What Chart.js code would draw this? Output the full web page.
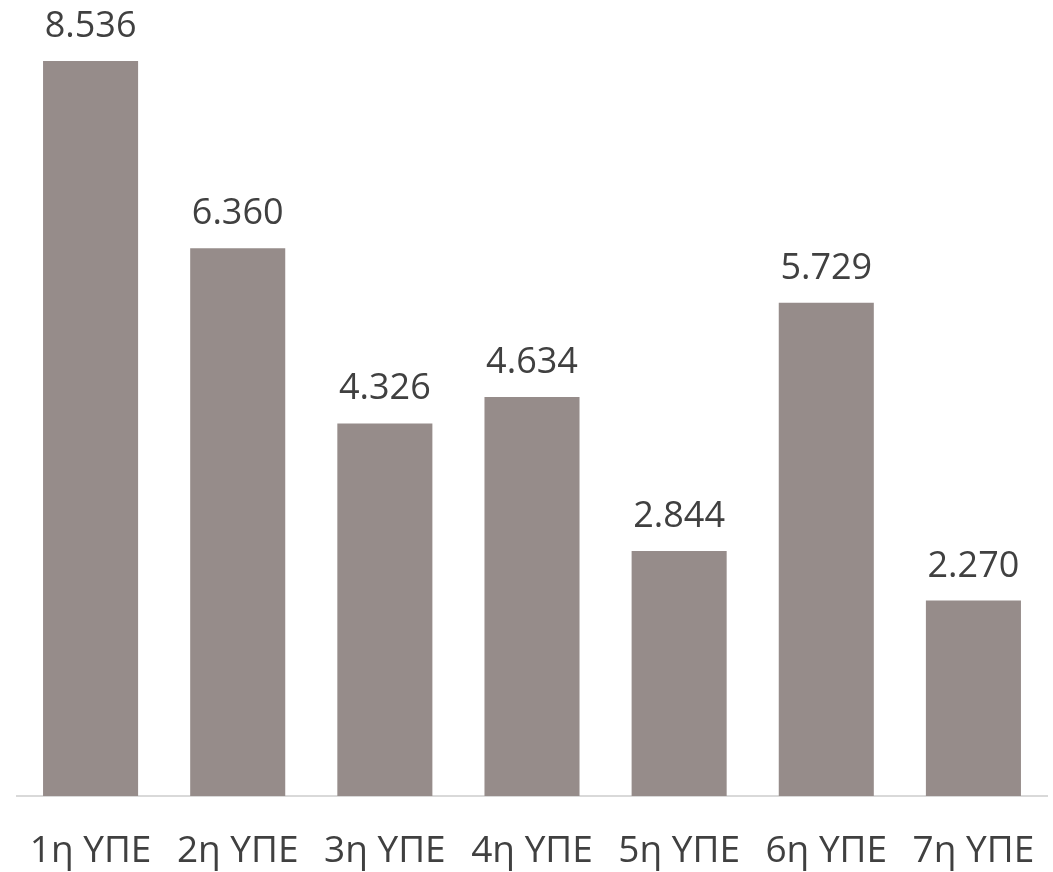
<!DOCTYPE html>
<html>
<head>
<meta charset="utf-8">
<script src="https://cdn.jsdelivr.net/npm/chart.js@4"></script>
<style>
  body { margin: 0; background: #fff; overflow: hidden; }
  #wrap { width: 1053px; height: 872px; }
  canvas { display: block; }
</style>
</head>
<body>
<div id="wrap"><canvas id="myChart" width="1053" height="872"></canvas></div>
<script>
const regions = ['1η ΥΠΕ', '2η ΥΠΕ', '3η ΥΠΕ', '4η ΥΠΕ', '5η ΥΠΕ', '6η ΥΠΕ', '7η ΥΠΕ'];
const counts = [8536, 6360, 4326, 4634, 2844, 5729, 2270];

// thousands with a dot, e.g. 8.536
function fmt(n) {
    return String(n).replace(/\B(?=(\d{3})+(?!\d))/g, '.');
}

const valueLabels = {
    id: 'valueLabels',
    afterDatasetsDraw(chart) {
        const c = chart.ctx;
        const meta = chart.getDatasetMeta(0);
        c.save();
        c.font = '36px "Open Sans"';
        c.fillStyle = '#404040';
        c.textAlign = 'center';
        c.textBaseline = 'alphabetic';
        meta.data.forEach((bar, i) => {
            c.fillText(fmt(counts[i]), bar.x, bar.y - 24);
        });
        c.restore();
    }
};

const ctx = document.getElementById('myChart').getContext('2d');

new Chart(ctx, {
    type: 'bar',
    data: {
        labels: regions,
        datasets: [{
            data: counts,
            backgroundColor: '#968c8a',
            borderWidth: 0,
            categoryPercentage: 0.646,
            barPercentage: 1
        }]
    },
    options: {
        responsive: false,
        animation: false,
        layout: { padding: { left: 17, right: 6, top: 21, bottom: 0 } },
        plugins: {
            legend: { display: false },
            tooltip: { enabled: false }
        },
        scales: {
            x: {
                // invisible tick marks push the labels down without widening the side padding
                grid: { drawOnChartArea: false, drawTicks: true, tickLength: 33, tickColor: 'rgba(0,0,0,0)' },
                border: { color: '#d9d9d9', width: 2 },
                ticks: {
                    color: '#404040',
                    padding: 0,
                    font: { family: 'Open Sans', size: 37 }
                },
                afterFit(scale) {
                    scale.height = 76;
                }
            },
            y: {
                display: false,
                min: 0,
                max: 9000
            }
        }
    },
    plugins: [valueLabels]
});
</script>
</body>
</html>
